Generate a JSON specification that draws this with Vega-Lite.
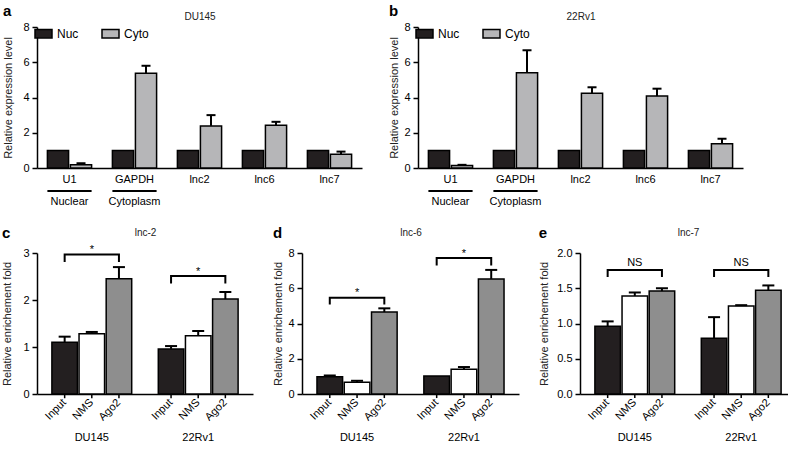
{
  "$schema": "https://vega.github.io/schema/vega-lite/v6.json",
  "padding": {"top": 4, "left": 1, "right": 0, "bottom": 0},
  "background": "white",
  "config": {
    "font": "Liberation Sans",
    "view": {"stroke": null},
    "axis": {"domainColor": "black", "domainWidth": 1.5, "tickColor": "black", "tickWidth": 1.5, "tickSize": 5, "labelColor": "black", "labelFontSize": 11, "labelPadding": 3, "titleColor": "#222", "titleFontSize": 11, "titleFontWeight": "normal", "grid": false, "labelFont": "Liberation Sans", "titleFont": "Liberation Sans", "labelFlush": false, "labelOverlap": false},
    "title": {"font": "Liberation Sans", "color": "black"},
    "legend": {"labelFont": "Liberation Sans", "labelColor": "black"}
  },
  "resolve": {"scale": {"color": "independent", "xOffset": "independent", "x": "independent", "y": "independent"}},
  "datasets": {
    "top": [
      {"panel": "a", "gene": "U1", "frac": "Nuc", "v": 1},
      {"panel": "a", "gene": "U1", "frac": "Cyto", "v": 0.18, "hi": 0.27},
      {"panel": "a", "gene": "GAPDH", "frac": "Nuc", "v": 1},
      {"panel": "a", "gene": "GAPDH", "frac": "Cyto", "v": 5.37, "hi": 5.8},
      {"panel": "a", "gene": "lnc2", "frac": "Nuc", "v": 1},
      {"panel": "a", "gene": "lnc2", "frac": "Cyto", "v": 2.39, "hi": 3.0},
      {"panel": "a", "gene": "lnc6", "frac": "Nuc", "v": 1},
      {"panel": "a", "gene": "lnc6", "frac": "Cyto", "v": 2.42, "hi": 2.62},
      {"panel": "a", "gene": "lnc7", "frac": "Nuc", "v": 1},
      {"panel": "a", "gene": "lnc7", "frac": "Cyto", "v": 0.78, "hi": 0.93},
      {"panel": "b", "gene": "U1", "frac": "Nuc", "v": 1},
      {"panel": "b", "gene": "U1", "frac": "Cyto", "v": 0.14, "hi": 0.18},
      {"panel": "b", "gene": "GAPDH", "frac": "Nuc", "v": 1},
      {"panel": "b", "gene": "GAPDH", "frac": "Cyto", "v": 5.4, "hi": 6.68},
      {"panel": "b", "gene": "lnc2", "frac": "Nuc", "v": 1},
      {"panel": "b", "gene": "lnc2", "frac": "Cyto", "v": 4.24, "hi": 4.58},
      {"panel": "b", "gene": "lnc6", "frac": "Nuc", "v": 1},
      {"panel": "b", "gene": "lnc6", "frac": "Cyto", "v": 4.08, "hi": 4.5},
      {"panel": "b", "gene": "lnc7", "frac": "Nuc", "v": 1},
      {"panel": "b", "gene": "lnc7", "frac": "Cyto", "v": 1.37, "hi": 1.66}
    ],
    "bottom": [
      {"panel": "c", "line": "DU145", "t": "Input", "v": 1.10, "hi": 1.22},
      {"panel": "c", "line": "DU145", "t": "NMS", "v": 1.28, "hi": 1.32},
      {"panel": "c", "line": "DU145", "t": "Ago2", "v": 2.45, "hi": 2.70},
      {"panel": "c", "line": "22Rv1", "t": "Input", "v": 0.96, "hi": 1.02},
      {"panel": "c", "line": "22Rv1", "t": "NMS", "v": 1.24, "hi": 1.34},
      {"panel": "c", "line": "22Rv1", "t": "Ago2", "v": 2.02, "hi": 2.17},
      {"panel": "d", "line": "DU145", "t": "Input", "v": 0.98, "hi": 1.05},
      {"panel": "d", "line": "DU145", "t": "NMS", "v": 0.66, "hi": 0.75},
      {"panel": "d", "line": "DU145", "t": "Ago2", "v": 4.65, "hi": 4.86},
      {"panel": "d", "line": "22Rv1", "t": "Input", "v": 1.02, "hi": 1.02},
      {"panel": "d", "line": "22Rv1", "t": "NMS", "v": 1.41, "hi": 1.53},
      {"panel": "d", "line": "22Rv1", "t": "Ago2", "v": 6.53, "hi": 7.04},
      {"panel": "e", "line": "DU145", "t": "Input", "v": 0.96, "hi": 1.03},
      {"panel": "e", "line": "DU145", "t": "NMS", "v": 1.39, "hi": 1.44},
      {"panel": "e", "line": "DU145", "t": "Ago2", "v": 1.46, "hi": 1.50},
      {"panel": "e", "line": "22Rv1", "t": "Input", "v": 0.79, "hi": 1.09},
      {"panel": "e", "line": "22Rv1", "t": "NMS", "v": 1.25, "hi": 1.26},
      {"panel": "e", "line": "22Rv1", "t": "Ago2", "v": 1.47, "hi": 1.54}
    ],
    "brackets": [
      {"panel": "c", "line": "DU145", "t": "Input", "v": 2.81, "o": 1},
      {"panel": "c", "line": "DU145", "t": "Input", "v": 2.97, "o": 2},
      {"panel": "c", "line": "DU145", "t": "Ago2", "v": 2.97, "o": 3},
      {"panel": "c", "line": "DU145", "t": "Ago2", "v": 2.81, "o": 4},
      {"panel": "c", "line": "22Rv1", "t": "Input", "v": 2.35, "o": 1},
      {"panel": "c", "line": "22Rv1", "t": "Input", "v": 2.51, "o": 2},
      {"panel": "c", "line": "22Rv1", "t": "Ago2", "v": 2.51, "o": 3},
      {"panel": "c", "line": "22Rv1", "t": "Ago2", "v": 2.35, "o": 4},
      {"panel": "d", "line": "DU145", "t": "Input", "v": 5.08, "o": 1},
      {"panel": "d", "line": "DU145", "t": "Input", "v": 5.46, "o": 2},
      {"panel": "d", "line": "DU145", "t": "Ago2", "v": 5.46, "o": 3},
      {"panel": "d", "line": "DU145", "t": "Ago2", "v": 5.08, "o": 4},
      {"panel": "d", "line": "22Rv1", "t": "Input", "v": 7.29, "o": 1},
      {"panel": "d", "line": "22Rv1", "t": "Input", "v": 7.72, "o": 2},
      {"panel": "d", "line": "22Rv1", "t": "Ago2", "v": 7.72, "o": 3},
      {"panel": "d", "line": "22Rv1", "t": "Ago2", "v": 7.29, "o": 4},
      {"panel": "e", "line": "DU145", "t": "Input", "v": 1.66, "o": 1},
      {"panel": "e", "line": "DU145", "t": "Input", "v": 1.76, "o": 2},
      {"panel": "e", "line": "DU145", "t": "Ago2", "v": 1.76, "o": 3},
      {"panel": "e", "line": "DU145", "t": "Ago2", "v": 1.66, "o": 4},
      {"panel": "e", "line": "22Rv1", "t": "Input", "v": 1.66, "o": 1},
      {"panel": "e", "line": "22Rv1", "t": "Input", "v": 1.76, "o": 2},
      {"panel": "e", "line": "22Rv1", "t": "Ago2", "v": 1.76, "o": 3},
      {"panel": "e", "line": "22Rv1", "t": "Ago2", "v": 1.66, "o": 4}
    ],
    "sig": [
      {"panel": "c", "line": "DU145", "label": "*", "v": 3.0},
      {"panel": "c", "line": "22Rv1", "label": "*", "v": 2.54},
      {"panel": "d", "line": "DU145", "label": "*", "v": 5.54},
      {"panel": "d", "line": "22Rv1", "label": "*", "v": 7.8},
      {"panel": "e", "line": "DU145", "label": "NS", "v": 1.81},
      {"panel": "e", "line": "22Rv1", "label": "NS", "v": 1.81}
    ]
  },
  "vconcat": [
    {
      "resolve": {"scale": {"color": "independent", "xOffset": "independent", "x": "independent", "y": "independent"}},
      "hconcat": [
        {
          "width": 325, "height": 141,
          "title": {"text": "a", "anchor": "start", "frame": "bounds", "fontSize": 15, "fontWeight": "bold", "offset": -8},
          "data": {"name": "top"},
          "transform": [{"filter": "datum.panel == 'a'"}],
          "layer": [
            {
              "mark": {"type": "bar", "stroke": "black", "strokeWidth": 1.5},
              "encoding": {
                "x": {"field": "gene", "type": "nominal", "scale": {"domain": ["U1", "GAPDH", "lnc2", "lnc6", "lnc7"], "paddingInner": 0.32, "paddingOuter": 0.16}, "axis": {"title": null, "labelAngle": 0, "ticks": false, "labelPadding": 5, "labelLineHeight": 22, "labelExpr": "datum.value == 'U1' ? ['U1', 'Nuclear'] : datum.value == 'GAPDH' ? ['GAPDH', 'Cytoplasm'] : datum.value"}},
                "xOffset": {"field": "frac", "type": "nominal", "scale": {"domain": ["Nuc", "Cyto"], "paddingInner": 0.08}},
                "y": {"field": "v", "type": "quantitative", "scale": {"domain": [0, 8], "nice": false}, "axis": {"title": "Relative expression level", "values": [0, 2, 4, 6, 8], "labelOverlap": false, "titlePadding": 9}},
                "color": {"field": "frac", "type": "nominal", "scale": {"domain": ["Nuc", "Cyto"], "range": ["#231f20", "#b6b6b8"]}, "legend": {"orient": "top-left", "direction": "horizontal", "title": null, "symbolType": "M-1,-0.5H1V0.5H-1Z", "symbolSize": 289, "symbolStrokeColor": "black", "symbolStrokeWidth": 1.5, "labelFontSize": 12, "columnPadding": 20, "offset": -3, "padding": 0, "labelOffset": 4}}
              }
            },
            {
              "transform": [{"filter": "datum.hi > datum.v"}],
              "mark": {"type": "rule", "strokeWidth": 2, "color": "black"},
              "encoding": {
                "x": {"field": "gene", "type": "nominal", "scale": {"domain": ["U1", "GAPDH", "lnc2", "lnc6", "lnc7"]}, "axis": null},
                "xOffset": {"field": "frac", "type": "nominal", "scale": {"domain": ["Nuc", "Cyto"]}},
                "y": {"field": "v", "type": "quantitative", "scale": {"domain": [0, 8], "nice": false}, "axis": {"title": "Relative expression level", "values": [0, 2, 4, 6, 8], "labelOverlap": false, "titlePadding": 9}},
                "y2": {"field": "hi"}
              }
            },
            {
              "transform": [{"filter": "datum.hi > datum.v"}],
              "mark": {"type": "point", "shape": "M-1,0H1", "filled": false, "strokeWidth": 2, "size": 81, "opacity": 1, "color": "black"},
              "encoding": {
                "x": {"field": "gene", "type": "nominal", "scale": {"domain": ["U1", "GAPDH", "lnc2", "lnc6", "lnc7"]}, "axis": null},
                "xOffset": {"field": "frac", "type": "nominal", "scale": {"domain": ["Nuc", "Cyto"]}},
                "y": {"field": "hi", "type": "quantitative", "scale": {"domain": [0, 8], "nice": false}, "axis": {"title": "Relative expression level", "values": [0, 2, 4, 6, 8], "labelOverlap": false, "titlePadding": 9}}
              }
            },
            {
              "transform": [{"filter": "(datum.gene == 'U1' || datum.gene == 'GAPDH') && datum.frac == 'Nuc'"}],
              "mark": {"type": "bar", "color": "black"},
              "encoding": {
                "x": {"field": "gene", "type": "nominal", "scale": {"domain": ["U1", "GAPDH", "lnc2", "lnc6", "lnc7"]}, "axis": {"orient": "top", "title": "DU145", "labels": false, "ticks": false, "domain": false, "titlePadding": 6, "titleFontSize": 10}},
                "y": {"datum": -1.25, "type": "quantitative", "scale": {"domain": [0, 8], "nice": false}, "axis": {"title": "Relative expression level", "values": [0, 2, 4, 6, 8], "labelOverlap": false, "titlePadding": 9}},
                "y2": {"datum": -1.36}
              }
            }
          ],
          "resolve": {"axis": {"x": "independent"}}
        },
        {
          "width": 325, "height": 141,
          "title": {"text": "b", "anchor": "start", "frame": "bounds", "fontSize": 15, "fontWeight": "bold", "offset": -8},
          "data": {"name": "top"},
          "transform": [{"filter": "datum.panel == 'b'"}],
          "layer": [
            {
              "mark": {"type": "bar", "stroke": "black", "strokeWidth": 1.5},
              "encoding": {
                "x": {"field": "gene", "type": "nominal", "scale": {"domain": ["U1", "GAPDH", "lnc2", "lnc6", "lnc7"], "paddingInner": 0.32, "paddingOuter": 0.16}, "axis": {"title": null, "labelAngle": 0, "ticks": false, "labelPadding": 5, "labelLineHeight": 22, "labelExpr": "datum.value == 'U1' ? ['U1', 'Nuclear'] : datum.value == 'GAPDH' ? ['GAPDH', 'Cytoplasm'] : datum.value"}},
                "xOffset": {"field": "frac", "type": "nominal", "scale": {"domain": ["Nuc", "Cyto"], "paddingInner": 0.08}},
                "y": {"field": "v", "type": "quantitative", "scale": {"domain": [0, 8], "nice": false}, "axis": {"title": "Relative expression level", "values": [0, 2, 4, 6, 8], "labelOverlap": false, "titlePadding": 4}},
                "color": {"field": "frac", "type": "nominal", "scale": {"domain": ["Nuc", "Cyto"], "range": ["#231f20", "#b6b6b8"]}, "legend": {"orient": "top-left", "direction": "horizontal", "title": null, "symbolType": "M-1,-0.5H1V0.5H-1Z", "symbolSize": 289, "symbolStrokeColor": "black", "symbolStrokeWidth": 1.5, "labelFontSize": 12, "columnPadding": 20, "offset": -3, "padding": 0, "labelOffset": 4}}
              }
            },
            {
              "transform": [{"filter": "datum.hi > datum.v"}],
              "mark": {"type": "rule", "strokeWidth": 2, "color": "black"},
              "encoding": {
                "x": {"field": "gene", "type": "nominal", "scale": {"domain": ["U1", "GAPDH", "lnc2", "lnc6", "lnc7"]}, "axis": null},
                "xOffset": {"field": "frac", "type": "nominal", "scale": {"domain": ["Nuc", "Cyto"]}},
                "y": {"field": "v", "type": "quantitative", "scale": {"domain": [0, 8], "nice": false}, "axis": {"title": "Relative expression level", "values": [0, 2, 4, 6, 8], "labelOverlap": false, "titlePadding": 4}},
                "y2": {"field": "hi"}
              }
            },
            {
              "transform": [{"filter": "datum.hi > datum.v"}],
              "mark": {"type": "point", "shape": "M-1,0H1", "filled": false, "strokeWidth": 2, "size": 81, "opacity": 1, "color": "black"},
              "encoding": {
                "x": {"field": "gene", "type": "nominal", "scale": {"domain": ["U1", "GAPDH", "lnc2", "lnc6", "lnc7"]}, "axis": null},
                "xOffset": {"field": "frac", "type": "nominal", "scale": {"domain": ["Nuc", "Cyto"]}},
                "y": {"field": "hi", "type": "quantitative", "scale": {"domain": [0, 8], "nice": false}, "axis": {"title": "Relative expression level", "values": [0, 2, 4, 6, 8], "labelOverlap": false, "titlePadding": 4}}
              }
            },
            {
              "transform": [{"filter": "(datum.gene == 'U1' || datum.gene == 'GAPDH') && datum.frac == 'Nuc'"}],
              "mark": {"type": "bar", "color": "black"},
              "encoding": {
                "x": {"field": "gene", "type": "nominal", "scale": {"domain": ["U1", "GAPDH", "lnc2", "lnc6", "lnc7"]}, "axis": {"orient": "top", "title": "22Rv1", "labels": false, "ticks": false, "domain": false, "titlePadding": 6, "titleFontSize": 10}},
                "y": {"datum": -1.25, "type": "quantitative", "scale": {"domain": [0, 8], "nice": false}, "axis": {"title": "Relative expression level", "values": [0, 2, 4, 6, 8], "labelOverlap": false, "titlePadding": 4}},
                "y2": {"datum": -1.36}
              }
            }
          ],
          "resolve": {"axis": {"x": "independent"}}
        }
      ],
      "spacing": 26
    },
    {
      "resolve": {"scale": {"color": "independent", "xOffset": "independent", "x": "independent", "y": "independent"}},
      "hconcat": [
        {
          "width": 216, "height": 141,
          "title": {"text": "c", "anchor": "start", "frame": "bounds", "fontSize": 15, "fontWeight": "bold", "offset": -14},
          "layer": [
            {
              "data": {"name": "bottom"},
              "transform": [{"filter": "datum.panel == 'c'"}],
              "mark": {"type": "bar", "stroke": "black", "strokeWidth": 1.5},
              "encoding": {
                "x": {"field": "line", "type": "nominal", "scale": {"domain": ["DU145", "22Rv1"], "paddingInner": 0.25, "paddingOuter": 0.14}, "axis": {"title": null, "labelAngle": 0, "ticks": false, "labelPadding": 37}},
                "xOffset": {"field": "t", "type": "nominal", "scale": {"domain": ["Input", "NMS", "Ago2"], "paddingInner": 0.06}},
                "y": {"field": "v", "type": "quantitative", "scale": {"domain": [0, 3], "nice": false}, "axis": {"title": "Relative enrichement fold", "values": [0, 1, 2, 3], "labelOverlap": false, "titlePadding": 10}},
                "color": {"field": "t", "type": "nominal", "scale": {"domain": ["Input", "NMS", "Ago2"], "range": ["#231f20", "#ffffff", "#8e8e8e"]}, "legend": null}
              }
            },
            {
              "data": {"name": "bottom"},
              "transform": [{"filter": "datum.panel == 'c' && datum.hi > datum.v"}],
              "mark": {"type": "rule", "strokeWidth": 2, "color": "black"},
              "encoding": {
                "x": {"field": "line", "type": "nominal", "scale": {"domain": ["DU145", "22Rv1"]}, "axis": null},
                "xOffset": {"field": "t", "type": "nominal", "scale": {"domain": ["Input", "NMS", "Ago2"]}},
                "y": {"field": "v", "type": "quantitative", "scale": {"domain": [0, 3], "nice": false}, "axis": {"title": "Relative enrichement fold", "values": [0, 1, 2, 3], "labelOverlap": false, "titlePadding": 10}},
                "y2": {"field": "hi"}
              }
            },
            {
              "data": {"name": "bottom"},
              "transform": [{"filter": "datum.panel == 'c' && datum.hi > datum.v"}],
              "mark": {"type": "point", "shape": "M-1,0H1", "filled": false, "strokeWidth": 2, "size": 144, "opacity": 1, "color": "black"},
              "encoding": {
                "x": {"field": "line", "type": "nominal", "scale": {"domain": ["DU145", "22Rv1"]}, "axis": null},
                "xOffset": {"field": "t", "type": "nominal", "scale": {"domain": ["Input", "NMS", "Ago2"]}},
                "y": {"field": "hi", "type": "quantitative", "scale": {"domain": [0, 3], "nice": false}, "axis": {"title": "Relative enrichement fold", "values": [0, 1, 2, 3], "labelOverlap": false, "titlePadding": 10}}
              }
            },
            {
              "data": {"name": "bottom"},
              "transform": [{"filter": "datum.panel == 'c'"}],
              "mark": {"type": "rule", "strokeWidth": 1.5, "color": "black"},
              "encoding": {
                "x": {"field": "line", "type": "nominal", "scale": {"domain": ["DU145", "22Rv1"]}, "axis": null},
                "xOffset": {"field": "t", "type": "nominal", "scale": {"domain": ["Input", "NMS", "Ago2"]}},
                "y": {"datum": 0, "type": "quantitative", "scale": {"domain": [0, 3], "nice": false}, "axis": {"title": "Relative enrichement fold", "values": [0, 1, 2, 3], "labelOverlap": false, "titlePadding": 10}},
                "y2": {"datum": -0.09}
              }
            },
            {
              "data": {"name": "bottom"},
              "transform": [{"filter": "datum.panel == 'c'"}],
              "mark": {"type": "text", "angle": 315, "align": "right", "baseline": "middle", "fontSize": 11, "color": "black"},
              "encoding": {
                "x": {"field": "line", "type": "nominal", "scale": {"domain": ["DU145", "22Rv1"]}, "axis": null},
                "xOffset": {"field": "t", "type": "nominal", "scale": {"domain": ["Input", "NMS", "Ago2"]}},
                "y": {"datum": -0.15, "type": "quantitative", "scale": {"domain": [0, 3], "nice": false}, "axis": {"title": "Relative enrichement fold", "values": [0, 1, 2, 3], "labelOverlap": false, "titlePadding": 10}},
                "text": {"field": "t"}
              }
            },
            {
              "data": {"name": "brackets"},
              "transform": [{"filter": "datum.panel == 'c'"}],
              "mark": {"type": "line", "strokeWidth": 2, "color": "black"},
              "encoding": {
                "x": {"field": "line", "type": "nominal", "scale": {"domain": ["DU145", "22Rv1"]}, "axis": {"orient": "top", "title": "lnc-2", "labels": false, "ticks": false, "domain": false, "titlePadding": 16, "titleFontSize": 10}},
                "xOffset": {"field": "t", "type": "nominal", "scale": {"domain": ["Input", "NMS", "Ago2"]}},
                "y": {"field": "v", "type": "quantitative", "scale": {"domain": [0, 3], "nice": false}, "axis": {"title": "Relative enrichement fold", "values": [0, 1, 2, 3], "labelOverlap": false, "titlePadding": 10}},
                "detail": {"field": "line"},
                "order": {"field": "o"}
              }
            },
            {
              "data": {"name": "sig"},
              "transform": [{"filter": "datum.panel == 'c'"}],
              "mark": {"type": "text", "baseline": "alphabetic", "fontSize": 11, "color": "black"},
              "encoding": {
                "x": {"field": "line", "type": "nominal", "scale": {"domain": ["DU145", "22Rv1"]}, "axis": null},
                "y": {"field": "v", "type": "quantitative", "scale": {"domain": [0, 3], "nice": false}, "axis": {"title": "Relative enrichement fold", "values": [0, 1, 2, 3], "labelOverlap": false, "titlePadding": 10}},
                "text": {"field": "label"}
              }
            }
          ],
          "resolve": {"axis": {"x": "independent"}}
        },
        {
          "width": 217, "height": 141,
          "title": {"text": "d", "anchor": "start", "frame": "bounds", "fontSize": 15, "fontWeight": "bold", "offset": -14},
          "layer": [
            {
              "data": {"name": "bottom"},
              "transform": [{"filter": "datum.panel == 'd'"}],
              "mark": {"type": "bar", "stroke": "black", "strokeWidth": 1.5},
              "encoding": {
                "x": {"field": "line", "type": "nominal", "scale": {"domain": ["DU145", "22Rv1"], "paddingInner": 0.25, "paddingOuter": 0.14}, "axis": {"title": null, "labelAngle": 0, "ticks": false, "labelPadding": 37}},
                "xOffset": {"field": "t", "type": "nominal", "scale": {"domain": ["Input", "NMS", "Ago2"], "paddingInner": 0.06}},
                "y": {"field": "v", "type": "quantitative", "scale": {"domain": [0, 8], "nice": false}, "axis": {"title": "Relative enrichement fold", "values": [0, 2, 4, 6, 8], "labelOverlap": false, "titlePadding": 4}},
                "color": {"field": "t", "type": "nominal", "scale": {"domain": ["Input", "NMS", "Ago2"], "range": ["#231f20", "#ffffff", "#8e8e8e"]}, "legend": null}
              }
            },
            {
              "data": {"name": "bottom"},
              "transform": [{"filter": "datum.panel == 'd' && datum.hi > datum.v"}],
              "mark": {"type": "rule", "strokeWidth": 2, "color": "black"},
              "encoding": {
                "x": {"field": "line", "type": "nominal", "scale": {"domain": ["DU145", "22Rv1"]}, "axis": null},
                "xOffset": {"field": "t", "type": "nominal", "scale": {"domain": ["Input", "NMS", "Ago2"]}},
                "y": {"field": "v", "type": "quantitative", "scale": {"domain": [0, 8], "nice": false}, "axis": {"title": "Relative enrichement fold", "values": [0, 2, 4, 6, 8], "labelOverlap": false, "titlePadding": 4}},
                "y2": {"field": "hi"}
              }
            },
            {
              "data": {"name": "bottom"},
              "transform": [{"filter": "datum.panel == 'd' && datum.hi > datum.v"}],
              "mark": {"type": "point", "shape": "M-1,0H1", "filled": false, "strokeWidth": 2, "size": 144, "opacity": 1, "color": "black"},
              "encoding": {
                "x": {"field": "line", "type": "nominal", "scale": {"domain": ["DU145", "22Rv1"]}, "axis": null},
                "xOffset": {"field": "t", "type": "nominal", "scale": {"domain": ["Input", "NMS", "Ago2"]}},
                "y": {"field": "hi", "type": "quantitative", "scale": {"domain": [0, 8], "nice": false}, "axis": {"title": "Relative enrichement fold", "values": [0, 2, 4, 6, 8], "labelOverlap": false, "titlePadding": 4}}
              }
            },
            {
              "data": {"name": "bottom"},
              "transform": [{"filter": "datum.panel == 'd'"}],
              "mark": {"type": "rule", "strokeWidth": 1.5, "color": "black"},
              "encoding": {
                "x": {"field": "line", "type": "nominal", "scale": {"domain": ["DU145", "22Rv1"]}, "axis": null},
                "xOffset": {"field": "t", "type": "nominal", "scale": {"domain": ["Input", "NMS", "Ago2"]}},
                "y": {"datum": 0, "type": "quantitative", "scale": {"domain": [0, 8], "nice": false}, "axis": {"title": "Relative enrichement fold", "values": [0, 2, 4, 6, 8], "labelOverlap": false, "titlePadding": 4}},
                "y2": {"datum": -0.23}
              }
            },
            {
              "data": {"name": "bottom"},
              "transform": [{"filter": "datum.panel == 'd'"}],
              "mark": {"type": "text", "angle": 315, "align": "right", "baseline": "middle", "fontSize": 11, "color": "black"},
              "encoding": {
                "x": {"field": "line", "type": "nominal", "scale": {"domain": ["DU145", "22Rv1"]}, "axis": null},
                "xOffset": {"field": "t", "type": "nominal", "scale": {"domain": ["Input", "NMS", "Ago2"]}},
                "y": {"datum": -0.4, "type": "quantitative", "scale": {"domain": [0, 8], "nice": false}, "axis": {"title": "Relative enrichement fold", "values": [0, 2, 4, 6, 8], "labelOverlap": false, "titlePadding": 4}},
                "text": {"field": "t"}
              }
            },
            {
              "data": {"name": "brackets"},
              "transform": [{"filter": "datum.panel == 'd'"}],
              "mark": {"type": "line", "strokeWidth": 2, "color": "black"},
              "encoding": {
                "x": {"field": "line", "type": "nominal", "scale": {"domain": ["DU145", "22Rv1"]}, "axis": {"orient": "top", "title": "lnc-6", "labels": false, "ticks": false, "domain": false, "titlePadding": 16, "titleFontSize": 10}},
                "xOffset": {"field": "t", "type": "nominal", "scale": {"domain": ["Input", "NMS", "Ago2"]}},
                "y": {"field": "v", "type": "quantitative", "scale": {"domain": [0, 8], "nice": false}, "axis": {"title": "Relative enrichement fold", "values": [0, 2, 4, 6, 8], "labelOverlap": false, "titlePadding": 4}},
                "detail": {"field": "line"},
                "order": {"field": "o"}
              }
            },
            {
              "data": {"name": "sig"},
              "transform": [{"filter": "datum.panel == 'd'"}],
              "mark": {"type": "text", "baseline": "alphabetic", "fontSize": 11, "color": "black"},
              "encoding": {
                "x": {"field": "line", "type": "nominal", "scale": {"domain": ["DU145", "22Rv1"]}, "axis": null},
                "y": {"field": "v", "type": "quantitative", "scale": {"domain": [0, 8], "nice": false}, "axis": {"title": "Relative enrichement fold", "values": [0, 2, 4, 6, 8], "labelOverlap": false, "titlePadding": 4}},
                "text": {"field": "label"}
              }
            }
          ],
          "resolve": {"axis": {"x": "independent"}}
        },
        {
          "width": 216, "height": 141,
          "title": {"text": "e", "anchor": "start", "frame": "bounds", "fontSize": 15, "fontWeight": "bold", "offset": -14},
          "layer": [
            {
              "data": {"name": "bottom"},
              "transform": [{"filter": "datum.panel == 'e'"}],
              "mark": {"type": "bar", "stroke": "black", "strokeWidth": 1.5},
              "encoding": {
                "x": {"field": "line", "type": "nominal", "scale": {"domain": ["DU145", "22Rv1"], "paddingInner": 0.25, "paddingOuter": 0.14}, "axis": {"title": null, "labelAngle": 0, "ticks": false, "labelPadding": 37}},
                "xOffset": {"field": "t", "type": "nominal", "scale": {"domain": ["Input", "NMS", "Ago2"], "paddingInner": 0.06}},
                "y": {"field": "v", "type": "quantitative", "scale": {"domain": [0, 2], "nice": false}, "axis": {"title": "Relative enrichement fold", "values": [0, 0.5, 1, 1.5, 2], "format": ".1f", "labelOverlap": false, "titlePadding": 7}},
                "color": {"field": "t", "type": "nominal", "scale": {"domain": ["Input", "NMS", "Ago2"], "range": ["#231f20", "#ffffff", "#8e8e8e"]}, "legend": null}
              }
            },
            {
              "data": {"name": "bottom"},
              "transform": [{"filter": "datum.panel == 'e' && datum.hi > datum.v"}],
              "mark": {"type": "rule", "strokeWidth": 2, "color": "black"},
              "encoding": {
                "x": {"field": "line", "type": "nominal", "scale": {"domain": ["DU145", "22Rv1"]}, "axis": null},
                "xOffset": {"field": "t", "type": "nominal", "scale": {"domain": ["Input", "NMS", "Ago2"]}},
                "y": {"field": "v", "type": "quantitative", "scale": {"domain": [0, 2], "nice": false}, "axis": {"title": "Relative enrichement fold", "values": [0, 0.5, 1, 1.5, 2], "format": ".1f", "labelOverlap": false, "titlePadding": 7}},
                "y2": {"field": "hi"}
              }
            },
            {
              "data": {"name": "bottom"},
              "transform": [{"filter": "datum.panel == 'e' && datum.hi > datum.v"}],
              "mark": {"type": "point", "shape": "M-1,0H1", "filled": false, "strokeWidth": 2, "size": 144, "opacity": 1, "color": "black"},
              "encoding": {
                "x": {"field": "line", "type": "nominal", "scale": {"domain": ["DU145", "22Rv1"]}, "axis": null},
                "xOffset": {"field": "t", "type": "nominal", "scale": {"domain": ["Input", "NMS", "Ago2"]}},
                "y": {"field": "hi", "type": "quantitative", "scale": {"domain": [0, 2], "nice": false}, "axis": {"title": "Relative enrichement fold", "values": [0, 0.5, 1, 1.5, 2], "format": ".1f", "labelOverlap": false, "titlePadding": 7}}
              }
            },
            {
              "data": {"name": "bottom"},
              "transform": [{"filter": "datum.panel == 'e'"}],
              "mark": {"type": "rule", "strokeWidth": 1.5, "color": "black"},
              "encoding": {
                "x": {"field": "line", "type": "nominal", "scale": {"domain": ["DU145", "22Rv1"]}, "axis": null},
                "xOffset": {"field": "t", "type": "nominal", "scale": {"domain": ["Input", "NMS", "Ago2"]}},
                "y": {"datum": 0, "type": "quantitative", "scale": {"domain": [0, 2], "nice": false}, "axis": {"title": "Relative enrichement fold", "values": [0, 0.5, 1, 1.5, 2], "format": ".1f", "labelOverlap": false, "titlePadding": 7}},
                "y2": {"datum": -0.057}
              }
            },
            {
              "data": {"name": "bottom"},
              "transform": [{"filter": "datum.panel == 'e'"}],
              "mark": {"type": "text", "angle": 315, "align": "right", "baseline": "middle", "fontSize": 11, "color": "black"},
              "encoding": {
                "x": {"field": "line", "type": "nominal", "scale": {"domain": ["DU145", "22Rv1"]}, "axis": null},
                "xOffset": {"field": "t", "type": "nominal", "scale": {"domain": ["Input", "NMS", "Ago2"]}},
                "y": {"datum": -0.1, "type": "quantitative", "scale": {"domain": [0, 2], "nice": false}, "axis": {"title": "Relative enrichement fold", "values": [0, 0.5, 1, 1.5, 2], "format": ".1f", "labelOverlap": false, "titlePadding": 7}},
                "text": {"field": "t"}
              }
            },
            {
              "data": {"name": "brackets"},
              "transform": [{"filter": "datum.panel == 'e'"}],
              "mark": {"type": "line", "strokeWidth": 2, "color": "black"},
              "encoding": {
                "x": {"field": "line", "type": "nominal", "scale": {"domain": ["DU145", "22Rv1"]}, "axis": {"orient": "top", "title": "lnc-7", "labels": false, "ticks": false, "domain": false, "titlePadding": 16, "titleFontSize": 10}},
                "xOffset": {"field": "t", "type": "nominal", "scale": {"domain": ["Input", "NMS", "Ago2"]}},
                "y": {"field": "v", "type": "quantitative", "scale": {"domain": [0, 2], "nice": false}, "axis": {"title": "Relative enrichement fold", "values": [0, 0.5, 1, 1.5, 2], "format": ".1f", "labelOverlap": false, "titlePadding": 7}},
                "detail": {"field": "line"},
                "order": {"field": "o"}
              }
            },
            {
              "data": {"name": "sig"},
              "transform": [{"filter": "datum.panel == 'e'"}],
              "mark": {"type": "text", "baseline": "alphabetic", "fontSize": 11, "color": "black"},
              "encoding": {
                "x": {"field": "line", "type": "nominal", "scale": {"domain": ["DU145", "22Rv1"]}, "axis": null},
                "y": {"field": "v", "type": "quantitative", "scale": {"domain": [0, 2], "nice": false}, "axis": {"title": "Relative enrichement fold", "values": [0, 0.5, 1, 1.5, 2], "format": ".1f", "labelOverlap": false, "titlePadding": 7}},
                "text": {"field": "label"}
              }
            }
          ],
          "resolve": {"axis": {"x": "independent"}}
        }
      ],
      "spacing": 19
    }
  ],
  "spacing": 20
}
